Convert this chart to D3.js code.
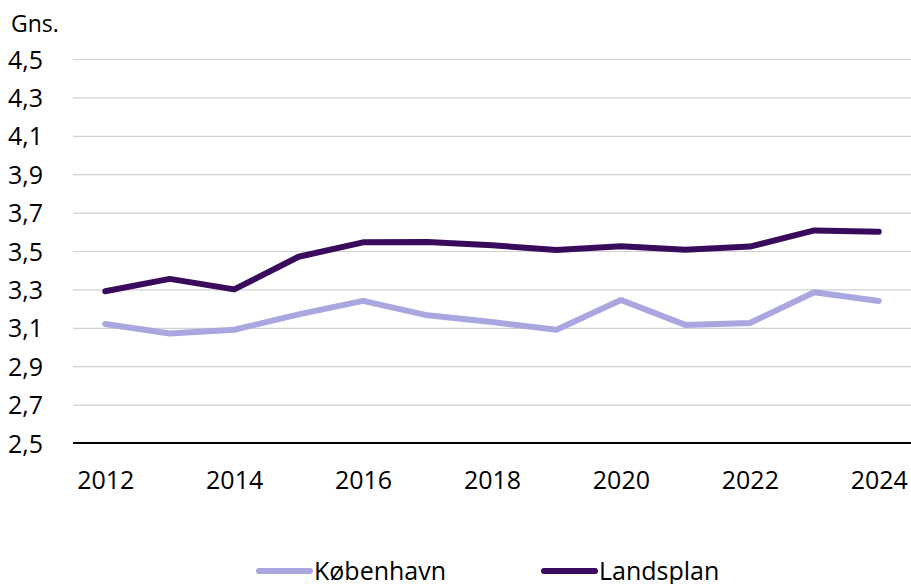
<!DOCTYPE html>
<html>
<head>
<meta charset="utf-8">
<script src="https://d3js.org/d3.v7.min.js"></script>
<style>
  body { margin: 0; background: #fff; }
  text { font-family: "Open Sans", sans-serif; fill: #000; }
</style>
</head>
<body>
<div id="chart"></div>
<script>
// data
var years = [2012, 2013, 2014, 2015, 2016, 2017, 2018, 2019, 2020, 2021, 2022, 2023, 2024];
var kobenhavn = [3.12, 3.07, 3.09, 3.17, 3.24, 3.165, 3.13, 3.09, 3.245, 3.115, 3.125, 3.285, 3.24];
var landsplan = [3.29, 3.355, 3.30, 3.47, 3.545, 3.547, 3.53, 3.505, 3.525, 3.507, 3.523, 3.607, 3.60];
var yTicks = [2.5, 2.7, 2.9, 3.1, 3.3, 3.5, 3.7, 3.9, 4.1, 4.3, 4.5];
var xTickYears = [2012, 2014, 2016, 2018, 2020, 2022, 2024];

var W = 911, H = 584;
var plotL = 73, plotR = 911, plotT = 59, plotB = 443;

var svg = d3.select("#chart").append("svg")
    .attr("width", W)
    .attr("height", H);

var x = d3.scalePoint()
    .domain(years)
    .range([plotL, plotR])
    .padding(0.5);

var y = d3.scaleLinear()
    .domain([2.5, 4.5])
    .range([plotB, plotT]);

// gridlines + y labels
var yAxis = svg.append("g")
    .attr("transform", "translate(" + plotL + ",0)")
    .call(d3.axisLeft(y)
        .tickValues(yTicks)
        .tickSize(-(plotR - plotL))
        .tickPadding(30)
        .tickFormat(function(d) { return d3.format(".1f")(d).replace(".", ","); }));
yAxis.select(".domain").remove();
yAxis.selectAll(".tick line")
    .attr("stroke", "#d0d0d0")
    .attr("stroke-width", 1.2);
yAxis.selectAll(".tick text")
    .attr("font-size", 25)
    .attr("font-family", "Open Sans")
    .attr("fill", "#000")
    .attr("dy", "0.36em");

// baseline
svg.append("line")
    .attr("x1", plotL).attr("x2", plotR)
    .attr("y1", y(2.5)).attr("y2", y(2.5))
    .attr("stroke", "#000")
    .attr("stroke-width", 2);

// x axis labels
var xAxis = svg.append("g")
    .attr("transform", "translate(0," + plotB + ")")
    .call(d3.axisBottom(x)
        .tickValues(xTickYears)
        .tickSize(0)
        .tickPadding(28));
xAxis.select(".domain").remove();
xAxis.selectAll(".tick text")
    .attr("font-size", 25)
    .attr("font-family", "Open Sans")
    .attr("fill", "#000");

// unit label
svg.append("text")
    .attr("x", 11)
    .attr("y", 32)
    .attr("font-size", 23)
    .text("Gns.");

var line = d3.line()
    .x(function(d, i) { return x(years[i]); })
    .y(function(d) { return y(d); });

var series = [
    { name: "København", values: kobenhavn, color: "#aaa6e0" },
    { name: "Landsplan", values: landsplan, color: "#3a0a5c" }
];

svg.selectAll(".series")
    .data(series)
    .enter()
    .append("path")
    .attr("class", "series")
    .attr("d", function(d) { return line(d.values); })
    .attr("fill", "none")
    .attr("stroke", function(d) { return d.color; })
    .attr("stroke-width", 6)
    .attr("stroke-linejoin", "round")
    .attr("stroke-linecap", "round");

// legend
var legendX = [259, 544];
var leg = svg.selectAll(".legend")
    .data(series)
    .enter()
    .append("g")
    .attr("class", "legend")
    .attr("transform", function(d, i) { return "translate(" + legendX[i] + ",571)"; });
leg.append("line")
    .attr("x1", 0).attr("x2", 51)
    .attr("y1", 0).attr("y2", 0)
    .attr("stroke", function(d) { return d.color; })
    .attr("stroke-width", 6)
    .attr("stroke-linecap", "round");
leg.append("text")
    .attr("x", 55)
    .attr("y", 0)
    .attr("dy", "0.36em")
    .attr("font-size", 25)
    .text(function(d) { return d.name; });
</script>
</body>
</html>
